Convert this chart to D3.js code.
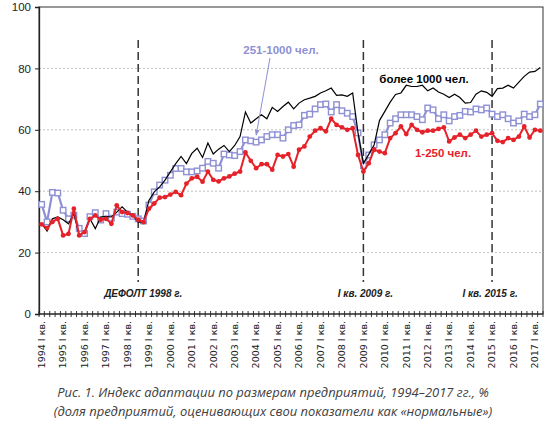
<!DOCTYPE html>
<html><head><meta charset="utf-8">
<script src="https://cdn.jsdelivr.net/npm/d3@7/dist/d3.min.js"></script>
<style>body{margin:0;background:#fff}svg{display:block}</style>
</head><body><svg id="c" width="550" height="425"></svg>
<script>
// ---------- data ----------
const years = [1994,1995,1996,1997,1998,1999,2000,2001,2002,2003,2004,2005,2006,2007,2008,2009,2010,2011,2012,2013,2014,2015,2016,2017];
const quarters = ["I","II","III","IV"];
const over1000 = [29.4,27,31,31.6,30.7,29.4,32.7,25.6,26.7,31,27.8,31.6,31.8,31.6,33.2,34.9,33.2,32.1,29.9,29.9,
  37,39.8,41.4,43.6,46.3,49,51.3,49,52.3,54,51,55.7,52.1,53.7,54.9,52.9,54.9,57.8,65.8,62.2,
  63.6,64.9,63.6,67.3,66,67.6,69,66.8,68.7,69.8,70.3,70.9,72,72.7,73.6,71.2,71.4,70.9,72,59,
  49.1,52,55,63,66,69,71.5,72,74.5,74.1,74.1,74.5,72.7,73.6,72.3,71.6,70.5,71.6,70.5,68.7,
  68.9,71.6,72.7,72.2,70.9,73.4,73.6,74.5,73.6,75.5,77.4,78.8,79,80.3];
const mid251to1000 = [35.7,30,39.6,39.4,33.8,31,32.2,27.9,26.2,31.7,33,30.6,32.7,31.2,33.2,32.7,32.5,31.8,31,30.3,
  35.5,39.8,42,43.6,45.2,47.4,47.4,46.3,46.3,46.6,47.5,49.7,49.1,47.5,52.1,51.8,51.6,52.9,56.7,56.4,
  56,56.7,57.8,58.4,58.4,57.3,60,61.4,61.6,64.7,65.1,66.8,68.2,68.4,65.8,68.2,66.2,65.4,64.3,59,
  48.3,51.8,55.1,56.7,58.4,62.2,63.6,64.9,64.9,64.9,64.3,63.3,67.1,66.5,63.6,64.9,62.9,64.3,64.7,66,
  65.8,66.8,66.5,67.1,65.1,64.3,64.9,63.6,62.2,62.9,65.1,64.3,64.9,68.4];
const small1to250 = [29.2,28,30,31,25.6,26.1,34.3,25.6,26.7,31,32.1,30.7,31,29.4,35.4,33.2,32.9,32.1,30.7,29.9,
  34.3,36,37.9,38.1,38.9,39.8,38.7,42.5,44.2,44.7,43.1,46.4,43.7,43.2,44.2,44.8,45.7,46.4,52.6,49.9,
  47.5,48.8,48.8,47,51.8,51.3,52.1,48,53.5,54.6,57.8,59.7,60.5,59.5,63.6,61.6,60.8,60,60.5,51.8,
  46.4,49.1,53.5,52.9,52.4,57.3,58.9,61.1,58.6,61.6,60,59.2,59.7,59.7,60.3,60.8,56.2,57.5,58.4,57.3,
  58.4,59.7,57.8,58.4,58.9,56.4,56,57.3,56.7,57.8,61.1,57.5,60,59.7];
const yTicks = [0,20,40,60,80,100];
const events = [
  {cat:"1998 III", label:"ДЕФОЛТ 1998 г.", dx:5},
  {cat:"2009 I", label:"I кв. 2009 г.", dx:2},
  {cat:"2015 I", label:"I кв. 2015 г.", dx:-2}
];
const captionLines = [
  "Рис. 1. Индекс адаптации по размерам предприятий, 1994–2017 гг., %",
  "(доля предприятий, оценивающих свои показатели как «нормальные»)"
];

// ---------- build ----------
const categories = [];
years.forEach(yr => quarters.forEach(q => categories.push({key: yr + " " + q, year: yr, q})));
const cats = categories.slice(0, over1000.length);

const L = 39, R = 543, T = 7, B = 314;
const svg = d3.select("#c");
const x = d3.scaleBand().domain(cats.map(d => d.key)).range([L, R]).padding(0);
const cx = k => x(k) + x.bandwidth() / 2;
const y = d3.scaleLinear().domain([0, 100]).range([B, T]);

// gridlines
svg.append("g").selectAll("line").data(yTicks.filter(v => v > 0 && v < 100)).join("line")
  .attr("x1", L).attr("x2", R).attr("y1", d => y(d)).attr("y2", d => y(d))
  .attr("stroke", "#b0b0b0").attr("stroke-width", 0.8).attr("stroke-dasharray", "2,2");

// frame
svg.append("rect").attr("x", L).attr("y", T).attr("width", R - L).attr("height", B - T)
  .attr("fill", "none").attr("stroke", "#333").attr("stroke-width", 1);

// y axis
const yAxis = svg.append("g").attr("transform", `translate(${L},0)`)
  .call(d3.axisLeft(y).tickValues(yTicks).tickSize(4).tickPadding(4));
yAxis.select(".domain").attr("stroke", "#222").attr("stroke-width", 1.3);
yAxis.selectAll(".tick line").attr("stroke", "#222");
yAxis.selectAll("text").attr("font-family", "Liberation Sans, Arial, sans-serif")
  .attr("font-size", 11.5).attr("fill", "#222");

// x axis: ticks at band boundaries
const bounds = cats.map(d => x(d.key)).concat([R]);
svg.append("line").attr("x1", L).attr("x2", R).attr("y1", B).attr("y2", B)
  .attr("stroke", "#222").attr("stroke-width", 1.2);
svg.append("g").selectAll("line").data(bounds).join("line")
  .attr("x1", d => d).attr("x2", d => d).attr("y1", B - 3).attr("y2", B + 3)
  .attr("stroke", "#222").attr("stroke-width", 0.9);
svg.append("g").selectAll("text").data(cats.filter(d => d.q === "I")).join("text")
  .attr("transform", d => `translate(${cx(d.key)},${B + 7}) rotate(-90)`)
  .attr("text-anchor", "end").attr("dy", "0.35em")
  .attr("font-family", "DejaVu Sans, sans-serif").attr("font-size", 9.5).attr("fill", "#222")
  .text(d => d.year + " I кв.");

// event lines
events.forEach(e => {
  const ex = cx(e.cat);
  svg.append("line").attr("x1", ex).attr("x2", ex).attr("y1", 40).attr("y2", 282)
    .attr("stroke", "#333").attr("stroke-width", 1.5).attr("stroke-dasharray", "8,4");
  svg.append("text").attr("x", ex + e.dx).attr("y", 297).attr("text-anchor", "middle")
    .attr("font-family", "Liberation Sans, Arial, sans-serif").attr("font-size", 10)
    .attr("font-weight", "bold").attr("font-style", "italic").attr("fill", "#222")
    .text(e.label);
});

// series
const line = d3.line().x((d, i) => cx(cats[i].key)).y(d => y(d));
const BLUE = "#8e90d4", RED = "#e52229";
svg.append("path").datum(mid251to1000).attr("d", line).attr("fill", "none")
  .attr("stroke", BLUE).attr("stroke-width", 2.2);
svg.append("g").selectAll("rect").data(mid251to1000).join("rect")
  .attr("x", (d, i) => cx(cats[i].key) - 2.75).attr("y", d => y(d) - 2.75)
  .attr("width", 5.5).attr("height", 5.5).attr("fill", "#fff").attr("stroke", BLUE).attr("stroke-width", 1.4);
svg.append("path").datum(over1000).attr("d", line).attr("fill", "none")
  .attr("stroke", "#000").attr("stroke-width", 1.2);
svg.append("path").datum(small1to250).attr("d", line).attr("fill", "none")
  .attr("stroke", RED).attr("stroke-width", 2);
svg.append("g").selectAll("circle").data(small1to250).join("circle")
  .attr("cx", (d, i) => cx(cats[i].key)).attr("cy", d => y(d)).attr("r", 2.4).attr("fill", RED);

// series labels
const lab = (t, px, py, col) => svg.append("text").attr("x", px).attr("y", py).attr("text-anchor", "middle")
  .attr("font-family", "Liberation Sans, Arial, sans-serif").attr("font-size", 11.5).attr("font-weight", "bold")
  .attr("fill", col).text(t);
lab("251-1000 чел.", 281, 54, BLUE);
lab("более 1000 чел.", 424, 83, "#000");
lab("1-250 чел.", 443, 157, RED);

// arrow to blue series
const defs = svg.append("defs");
defs.append("marker").attr("id", "ah").attr("viewBox", "0 0 10 10").attr("refX", 9).attr("refY", 5)
  .attr("markerWidth", 6).attr("markerHeight", 6).attr("orient", "auto")
  .append("path").attr("d", "M0,1 L10,5 L0,9 z").attr("fill", BLUE);
const tipCat = "2004 I";
const tipIdx = cats.findIndex(d => d.key === tipCat);
svg.append("line").attr("x1", 270).attr("y1", 58)
  .attr("x2", cx(tipCat)).attr("y2", y(mid251to1000[tipIdx]) - 7)
  .attr("stroke", BLUE).attr("stroke-width", 1).attr("marker-end", "url(#ah)");

// caption
const cap = svg.append("g").attr("font-family", "Open Sans, sans-serif").attr("font-style", "italic")
  .attr("fill", "#404040").attr("text-anchor", "middle");
const c1 = cap.append("text").attr("x", 273).attr("y", 397).attr("font-size", 12).text(captionLines[0]);
const w1 = c1.node().getComputedTextLength();
const fs = 12 * 432 / w1;
c1.attr("font-size", fs);
cap.append("text").attr("x", 273).attr("y", 416).attr("font-size", fs).text(captionLines[1]);
</script></body></html>
